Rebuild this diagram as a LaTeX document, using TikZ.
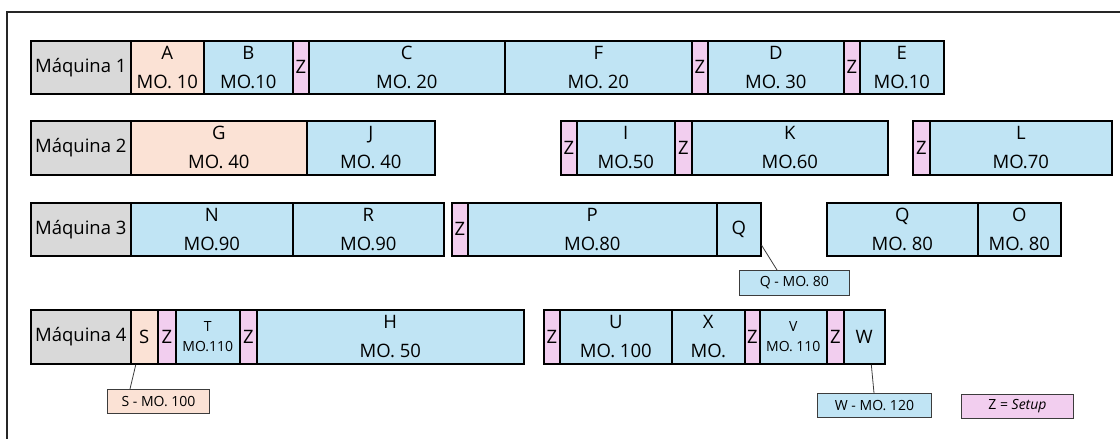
\documentclass[tikz,border=0pt]{standalone}
\usepackage{fontspec}
\setmainfont{Open Sans}
\usetikzlibrary{calc}
\definecolor{cblue}{RGB}{192,228,244}
\definecolor{cpeach}{RGB}{251,226,213}
\definecolor{cpink}{RGB}{242,206,239}
\definecolor{cgray}{RGB}{217,217,217}
\definecolor{cline}{RGB}{60,60,60}
\tikzset{
  cell/.style={draw=black, line width=1.6pt, inner sep=0pt, anchor=north west, align=center,
    font=\fontsize{18.5}{29}\selectfont},
  smallcell/.style={cell, font=\fontsize{14}{20.5}\selectfont},
  bluef/.style={fill=cblue},
  peachf/.style={fill=cpeach},
  pinkf/.style={fill=cpink},
  grayf/.style={fill=cgray},
  callout/.style={draw=cline, line width=0.9pt, inner sep=0pt, anchor=north west, align=center,
    font=\fontsize{14}{16}\selectfont},
  lead/.style={draw=cline, line width=0.8pt},
  frame/.style={draw=black!85, line width=1.4pt}
}
\begin{document}
\begin{tikzpicture}[x=1pt,y=-1pt]
\useasboundingbox (0,0) rectangle (1120,439);
\coordinate (fb) at (7,445);
\coordinate (fc) at (7,12);
\coordinate (fr) at (1125,12);
\draw[frame] (fb) -- (fc) -- (fr);
% Row 1
\def\ya{40}\def\ha{53pt}
\node[cell,grayf,minimum width=100pt,minimum height=\ha] (M1) at (30,\ya) {Máquina 1};
\node[cell,peachf,minimum width=73pt,minimum height=\ha] (A) at (130,\ya) {A\\MO. 10};
\node[cell,bluef,minimum width=89pt,minimum height=\ha] (B) at (203,\ya) {B\\MO.10};
\node[cell,pinkf,minimum width=16pt,minimum height=\ha] (Z1a) at (292,\ya) {Z};
\node[cell,bluef,minimum width=196pt,minimum height=\ha] (C) at (308,\ya) {C\\MO. 20};
\node[cell,bluef,minimum width=187pt,minimum height=\ha] (F) at (504,\ya) {F\\MO. 20};
\node[cell,pinkf,minimum width=16pt,minimum height=\ha] (Z1b) at (691,\ya) {Z};
\node[cell,bluef,minimum width=136pt,minimum height=\ha] (D) at (707,\ya) {D\\MO. 30};
\node[cell,pinkf,minimum width=16pt,minimum height=\ha] (Z1c) at (843,\ya) {Z};
\node[cell,bluef,minimum width=84pt,minimum height=\ha] (E) at (859,\ya) {E\\MO.10};
% Row 2
\def\yb{120}\def\hb{54pt}
\node[cell,grayf,minimum width=100pt,minimum height=\hb] (M2) at (30,\yb) {Máquina 2};
\node[cell,peachf,minimum width=176pt,minimum height=\hb] (G) at (130,\yb) {G\\MO. 40};
\node[cell,bluef,minimum width=128pt,minimum height=\hb] (J) at (306,\yb) {J\\MO. 40};
\node[cell,pinkf,minimum width=16pt,minimum height=\hb] (Z2a) at (560,\yb) {Z};
\node[cell,bluef,minimum width=98pt,minimum height=\hb] (I) at (576,\yb) {I\\MO.50};
\node[cell,pinkf,minimum width=17pt,minimum height=\hb] (Z2b) at (674,\yb) {Z};
\node[cell,bluef,minimum width=196pt,minimum height=\hb] (K) at (691,\yb) {K\\MO.60};
\node[cell,pinkf,minimum width=17pt,minimum height=\hb] (Z2c) at (912,\yb) {Z};
\node[cell,bluef,minimum width=182pt,minimum height=\hb] (L) at (929,\yb) {L\\MO.70};
% Row 3
\def\yc{202}\def\hc{53pt}
\node[cell,grayf,minimum width=100pt,minimum height=\hc] (M3) at (30,\yc) {Máquina 3};
\node[cell,bluef,minimum width=162pt,minimum height=\hc] (N) at (130,\yc) {N\\MO.90};
\node[cell,bluef,minimum width=151pt,minimum height=\hc] (R) at (292,\yc) {R\\MO.90};
\node[cell,pinkf,minimum width=16pt,minimum height=\hc] (Z3) at (451,\yc) {Z};
\node[cell,bluef,minimum width=249pt,minimum height=\hc] (P) at (467,\yc) {P\\MO.80};
\node[cell,bluef,minimum width=44pt,minimum height=\hc] (Q1) at (716,\yc) {Q};
\node[cell,bluef,minimum width=151pt,minimum height=\hc] (Q2) at (826,\yc) {Q\\MO. 80};
\node[cell,bluef,minimum width=83pt,minimum height=\hc] (O) at (977,\yc) {O\\MO. 80};
% Row 4
\def\yd{309}\def\hd{54pt}
\node[cell,grayf,minimum width=100pt,minimum height=\hd] (M4) at (30,\yd) {Máquina 4};
\node[cell,peachf,minimum width=27pt,minimum height=\hd] (S) at (130,\yd) {S};
\node[cell,pinkf,minimum width=18pt,minimum height=\hd] (Z4a) at (157,\yd) {Z};
\node[smallcell,bluef,minimum width=64pt,minimum height=\hd] (T) at (175,\yd) {T\\MO.110};
\node[cell,pinkf,minimum width=17pt,minimum height=\hd] (Z4b) at (239,\yd) {Z};
\node[cell,bluef,minimum width=267pt,minimum height=\hd] (H) at (256,\yd) {H\\MO. 50};
\node[cell,pinkf,minimum width=16pt,minimum height=\hd] (Z4c) at (543,\yd) {Z};
\node[cell,bluef,minimum width=112pt,minimum height=\hd] (U) at (559,\yd) {U\\MO. 100};
\node[cell,bluef,minimum width=73pt,minimum height=\hd] (X) at (671,\yd) {X\\MO.};
\node[cell,pinkf,minimum width=15pt,minimum height=\hd] (Z4d) at (744,\yd) {Z};
\node[smallcell,bluef,minimum width=67pt,minimum height=\hd] (V) at (759,\yd) {V\\MO. 110};
\node[cell,pinkf,minimum width=17pt,minimum height=\hd] (Z4e) at (826,\yd) {Z};
\node[cell,bluef,minimum width=41pt,minimum height=\hd] (W) at (843,\yd) {W};
% Callouts
\node[callout,bluef,minimum width=110pt,minimum height=25pt] (QC) at (739,270) {Q - MO. 80};
\node[callout,peachf,minimum width=102pt,minimum height=24pt] (SC) at (107,389) {S - MO. 100};
\node[callout,bluef,minimum width=114pt,minimum height=24pt] (WC) at (817,393) {W - MO. 120};
\node[callout,pinkf,minimum width=112pt,minimum height=24pt] (ZC) at (961,394) {Z = \textit{Setup}};
\draw[lead] (Q1.-35) -- ([xshift=38pt]QC.north west);
\draw[lead] ([xshift=-8.5pt]S.south) -- ([xshift=23pt]SC.north west);
\draw[lead] ([xshift=7pt]W.south) -- ([xshift=57pt]WC.north west);
\end{tikzpicture}
\end{document}
